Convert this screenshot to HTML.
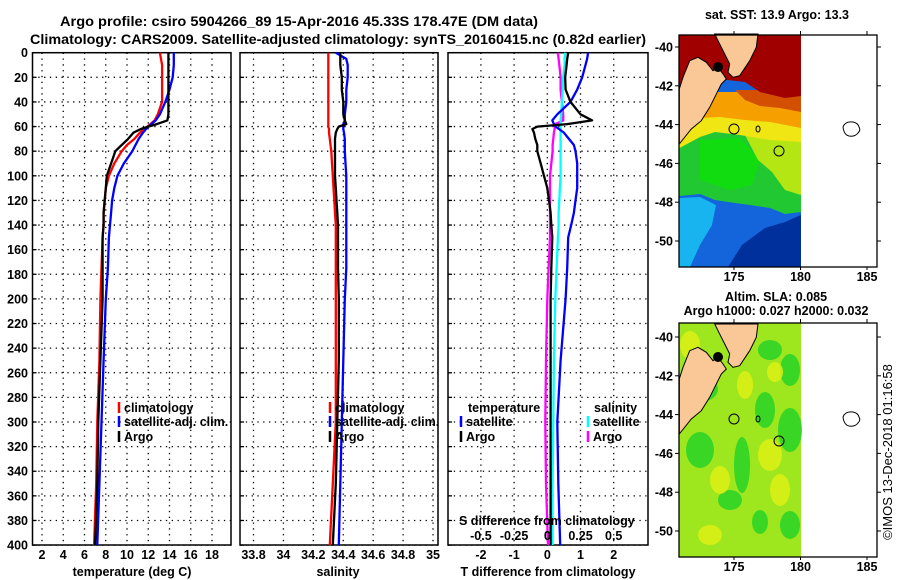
<!DOCTYPE html>
<html><head><meta charset="utf-8"><style>
html,body{margin:0;padding:0;background:#fff;}
svg{display:block;font-family:"Liberation Sans",Arial,sans-serif;}
.b{font-weight:bold;font-size:12.5px;fill:#000;}
</style></head><body>
<svg id="fig" width="900" height="580" viewBox="0 0 900 580" xmlns="http://www.w3.org/2000/svg">
<text class="b" x="60" y="26" textLength="478" lengthAdjust="spacingAndGlyphs" style="font-size:14px">Argo profile: csiro 5904266_89 15-Apr-2016 45.33S 178.47E (DM data)</text>
<text class="b" x="30" y="44" textLength="616" lengthAdjust="spacingAndGlyphs" style="font-size:14px">Climatology: CARS2009. Satellite-adjusted climatology: synTS_20160415.nc (0.82d earlier)</text>
<g id="p1"></g>
<g id="p2"></g>
<g id="p3"></g>
<g id="m1"></g>
<g id="m2"></g>
<text x="892" y="452" transform="rotate(-90 892 452)" text-anchor="middle" style="font-size:13px">©IMOS 13-Dec-2018 01:16:58</text>
</svg>
<script>
const depths=[0,5,10,20,30,40,50,55,58,60,62,65,70,75,80,90,100,110,120,130,140,150,175,200,250,300,350,400];
const tArgo=[13.9,13.9,13.9,13.9,13.9,13.9,13.9,13.8,12.8,12.0,11.3,10.6,10.1,9.5,8.9,8.5,8.1,8.0,7.9,7.8,7.8,7.7,7.7,7.7,7.5,7.3,7.2,7.0];
const tClim=[13.1,13.2,13.3,13.3,13.3,13.3,12.9,12.6,12.2,11.9,11.6,11.2,10.7,10.0,9.5,8.8,8.3,8.0,7.9,7.8,7.8,7.7,7.6,7.5,7.4,7.2,7.1,6.9];
const tSat=[14.4,14.4,14.4,14.3,14.0,13.6,13.1,12.7,12.3,12.0,11.8,11.5,11.1,10.8,10.5,9.7,9.1,8.8,8.6,8.5,8.4,8.3,8.2,8.0,7.8,7.6,7.4,7.2];
const sClim=[34.30,34.30,34.30,34.30,34.30,34.30,34.30,34.30,34.30,34.30,34.305,34.305,34.31,34.315,34.32,34.325,34.33,34.335,34.34,34.345,34.35,34.35,34.35,34.35,34.35,34.35,34.33,34.31];
const sArgo=[34.38,34.38,34.38,34.39,34.39,34.40,34.40,34.41,34.42,34.37,34.36,34.35,34.345,34.345,34.345,34.345,34.345,34.35,34.355,34.36,34.365,34.365,34.365,34.37,34.37,34.36,34.35,34.33];
const sSat=[34.35,34.42,34.43,34.43,34.42,34.42,34.41,34.41,34.40,34.40,34.40,34.405,34.41,34.41,34.41,34.415,34.42,34.42,34.42,34.42,34.42,34.42,34.42,34.41,34.40,34.39,34.38,34.37];
const dTargo=[0.63,0.6,0.58,0.54,0.55,0.7,1.0,1.35,0.6,-0.3,-0.45,-0.4,-0.36,-0.3,-0.3,-0.2,-0.1,0,0.05,0.1,0.12,0.15,0.12,0.1,0.1,0.1,0.1,0.1];
const dTsat=[1.23,1.2,1.15,1.05,0.9,0.7,0.3,0.15,0.2,0.25,0.35,0.5,0.65,0.8,0.85,0.9,0.9,0.9,0.85,0.8,0.72,0.63,0.6,0.55,0.4,0.3,0.33,0.39];
const dSsat=[0.135,0.13,0.13,0.12,0.115,0.11,0.105,0.1,0.1,0.1,0.1,0.1,0.1,0.1,0.1,0.1,0.1,0.095,0.09,0.085,0.085,0.08,0.07,0.06,0.05,0.045,0.04,0.04];
const dSargo=[0.08,0.085,0.09,0.1,0.1,0.11,0.12,0.12,0.06,0.06,0.055,0.05,0.045,0.04,0.04,0.03,0.02,0.02,0.02,0.02,0.02,0.02,0.01,0,-0.01,-0.015,-0.01,0.005];
const depthTicks=[0,20,40,60,80,100,120,140,160,180,200,220,240,260,280,300,320,340,360,380,400];
const tTicks=[2,4,6,8,10,12,14,16,18];
const sTicks=[33.8,34,34.2,34.4,34.6,34.8,35];
const sTickLabels=["33.8","34","34.2","34.4","34.6","34.8","35"];
const dTTicks=[-2,-1,0,1,2];
const dSTicks=[-0.5,-0.25,0,0.25,0.5];
const latTicks=[-40,-42,-44,-46,-48,-50];
const lonTicks=[175,180,185];

const NS="http://www.w3.org/2000/svg";
function mk(parent,tag,attrs,txt){const e=document.createElementNS(NS,tag);for(const k in attrs)e.setAttribute(k,attrs[k]);if(txt!==undefined)e.textContent=txt;parent.appendChild(e);return e;}
const Y0=52.7,YK=1.231;
const yD=d=>Y0+d*YK;
const xT=t=>42+(t-2)*10.625;
const xS=s=>253.5+(s-33.8)*149.6;
const xDT=t=>547.3+t*33.2;
const xDS=s=>547.3+s*132.8;

function panel(g,x0,x1,vticks,vx,labelsLeft){
  for(const d of depthTicks){
    const l=mk(g,'line',{x1:x0,x2:x1,y1:yD(d),y2:yD(d),stroke:'#000','stroke-width':1.3,'stroke-dasharray':'1.3,4.5'});
    
    
    const tk=mk(g,'line',{x1:x0,x2:x0+4,y1:yD(d),y2:yD(d),stroke:'#000','stroke-width':1.3});
    
    
    if(labelsLeft){
      const t=mk(g,'text',{x:28,y:yD(d)+4.5,'text-anchor':'end',class:'b'},String(d));
      
      
    }
  }
  for(const v of vticks){
    const l=mk(g,'line',{x1:vx(v),x2:vx(v),y1:Y0,y2:545,stroke:'#000','stroke-width':1.3,'stroke-dasharray':'1.3,4.5'});
    
    
  }
  const r=mk(g,'rect',{x:x0,y:Y0,width:x1-x0,height:545-Y0,fill:'none',stroke:'#000','stroke-width':1.5});
  
  
}
function series(g,vals,xf,color,name){
  const pts=vals.map((v,i)=>xf(v).toFixed(1)+','+yD(depths[i]).toFixed(1)).join(' ');
  const p=mk(g,'polyline',{points:pts,fill:'none',stroke:color,'stroke-width':2.3,'stroke-linejoin':'round'});
  
  
}
function legend(g,x,y,color,label,name,anchor){
  const m=mk(g,'line',{x1:x,x2:x,y1:y-10,y2:y+1,stroke:color,'stroke-width':2.5});
  
  
  const t=mk(g,'text',{x:x+5,y:y,class:'b'},label);
  
  
}
function xlabels(g,ticks,labels,xf,y,name){
  ticks.forEach((v,i)=>{const t=mk(g,'text',{x:xf(v),y:y,'text-anchor':'middle',class:'b'},labels[i]);
    
    });
}
// Panel 1
const p1=document.getElementById('p1');
panel(p1,32.5,231,tTicks,xT,true);
series(p1,tClim,xT,'#f00','climatology-temperature-line');
series(p1,tSat,xT,'#00f','satellite-temperature-line');
series(p1,tArgo,xT,'#000','argo-temperature-line');
legend(p1,119,412,'#f00','climatology','legend-climatology');
legend(p1,119,426,'#00f','satellite-adj. clim.','legend-satellite');
legend(p1,119,441,'#000','Argo','legend-argo');
xlabels(p1,tTicks,tTicks.map(String),xT,559,'temperature-tick-label');
mk(p1,'text',{x:132,y:576,'text-anchor':'middle',class:'b',},'temperature (deg C)');
// Panel 2
const p2=document.getElementById('p2');
panel(p2,240,438,sTicks,xS,false);
series(p2,sClim,xS,'#f00','climatology-salinity-line');
series(p2,sSat,xS,'#00f','satellite-salinity-line');
series(p2,sArgo,xS,'#000','argo-salinity-line');
legend(p2,330,412,'#f00','climatology','legend-climatology');
legend(p2,330,426,'#00f','satellite-adj. clim.','legend-satellite');
legend(p2,330,441,'#000','Argo','legend-argo');
xlabels(p2,sTicks,sTickLabels,xS,559,'salinity-tick-label');
mk(p2,'text',{x:338,y:576,'text-anchor':'middle',class:'b',},'salinity');
// Panel 3
const p3=document.getElementById('p3');
panel(p3,448,648,dTTicks,xDT,false);
series(p3,dSargo,xDS,'#f0f','argo-salinity-difference-line');
series(p3,dSsat,xDS,'#0ff','satellite-salinity-difference-line');
series(p3,dTsat,xDT,'#00f','satellite-temperature-difference-line');
series(p3,dTargo,xDT,'#000','argo-temperature-difference-line');
mk(p3,'text',{x:468,y:412,class:'b',},'temperature');
legend(p3,461,426,'#00f','satellite','legend-temperature-satellite');
legend(p3,461,441,'#000','Argo','legend-temperature-argo');
mk(p3,'text',{x:594,y:412,class:'b',},'salinity');
legend(p3,588,426,'#0ff','satellite','legend-salinity-satellite');
legend(p3,588,441,'#f0f','Argo','legend-salinity-argo');
mk(p3,'text',{x:459,y:525,class:'b',},'S difference from climatology');
xlabels(p3,dSTicks,["-0.5","-0.25","0","0.25","0.5"],xDS,540,'s-difference-tick-label');
xlabels(p3,dTTicks,["-2","-1","0","1","2"],xDT,559,'t-difference-tick-label');
mk(p3,'text',{x:548,y:576,'text-anchor':'middle',class:'b',},'T difference from climatology');

// Maps
const lonX=l=>734+(l-175)*13.3;
function drawMap(g,top,bottom,latY0,kind){
  const latY=la=>latY0+(-40-la)*19.4;
  const dy=latY0-47;
  const P=a=>a.map(p=>p[0]+','+(p[1]+dy)).join(' ');
  const X0=679.5,X1=801;
  if(kind==='sst'){
    const layers=[
      ['#1464dc',[[X0,35],[X1,35],[X1,267],[X0,267]]],
      ['#18b4f0',[[X0,198],[700,197],[716,205],[712,225],[700,245],[690,267],[X0,267]]],
      ['#00309c',[[728,267],[742,245],[765,228],[785,222],[X1,215],[X1,267]]],
      ['#22c832',[[X0,128],[X1,128],[X1,212],[785,214],[770,208],[750,205],[735,203],[715,200],[700,194],[X0,196]]],
      ['#10dc10',[[700,140],[740,138],[760,160],[752,185],[730,190],[700,180]]],
      ['#b4e614',[[745,135],[X1,135],[X1,195],[785,190],[772,172],[758,160]]],
      ['#f0e614',[[X0,100],[X1,100],[X1,142],[770,140],[740,135],[715,132],[700,137],[X0,148]]],
      ['#f5a000',[[X0,92],[X1,92],[X1,128],[770,122],[745,120],[720,117],[700,118],[X0,122]]],
      ['#d25000',[[735,90],[X1,90],[X1,112],[780,108],[760,106],[745,100]]],
      ['#a00000',[[X0,35],[X1,35],[X1,96],[785,98],[760,92],[745,82],[728,80],[700,76],[X0,84]]],
    ];
    layers.forEach(([c,pts])=>{const e=mk(g,'polygon',{points:P(pts),fill:c});
      
      });
  } else {
    const bg=mk(g,'rect',{x:X0,y:top,width:X1-X0,height:bottom-top,fill:'#9ee61e'});
    
    
    const blobs=[[704,99,14,12,'#28d228'],[770,60,12,10,'#28d228'],[790,80,10,16,'#28d228'],[765,120,10,18,'#28d228'],[790,140,12,22,'#28d228'],[700,160,14,18,'#28d228'],[742,175,8,28,'#28d228'],[730,210,12,10,'#28d228'],[790,235,10,14,'#28d228'],[760,232,8,12,'#28d228'],
      [690,55,10,14,'#dcf014'],[745,95,8,14,'#dcf014'],[775,82,8,10,'#dcf014'],[770,165,12,16,'#dcf014'],[720,190,10,14,'#dcf014'],[780,200,10,16,'#dcf014'],[710,245,12,10,'#dcf014']];
    blobs.forEach(b=>{const e=mk(g,'ellipse',{cx:b[0],cy:b[1]+dy,rx:b[2],ry:b[3],fill:b[4],opacity:0.85});
      
      });
  }
  const ox=678,oy=34+dy,Z=a=>a.map(p=>(ox+p[0]/3).toFixed(1)+','+(oy+p[1]/3).toFixed(1)).join(' ');
  const north=[[110,0],[240,0],[235,40],[215,80],[185,125],[165,130],[150,115],[155,90],[140,60],[120,20]];
  const south=[[4,165],[15,130],[35,80],[60,70],[85,85],[105,110],[120,100],[135,120],[145,135],[130,150],[105,200],[95,220],[70,260],[40,285],[4,330]];
  if(kind==='sst'){
    [north,south].forEach(s=>{const e=mk(g,'polygon',{points:Z(s),fill:'#f9c896',stroke:'#000','stroke-width':1});
      
      });
  } else {
    [north,south].forEach(s=>{const e=mk(g,'polygon',{points:Z(s),fill:'#f9c896',stroke:'#000','stroke-width':1});
      
      });
  }
  const c1=mk(g,'ellipse',{cx:718,cy:67+dy,rx:5,ry:5,fill:'#000'});
  
  
  [[734,129,5,5],[779,151,5,5],[758,129,2,3]].forEach(c=>{const e=mk(g,'ellipse',{cx:c[0],cy:c[1]+dy,rx:c[2],ry:c[3],fill:'none',stroke:'#000','stroke-width':1});
    
    });
  const isl=mk(g,'path',{d:`M843,${127+dy} q2,-6 10,-5 q5,1 6,5 q2,3 -1,6 q-3,4 -9,3 q-5,-1 -6,-9z`,fill:'none',stroke:'#000','stroke-width':1});
  
  
  const fr=mk(g,'rect',{x:679,y:top,width:198,height:bottom-top,fill:'none',stroke:'#000','stroke-width':1.3});
  
  
  latTicks.forEach(la=>{
    const t=mk(g,'text',{x:673,y:latY(la)+4.5,'text-anchor':'end',class:'b'},String(la));
    
    
    mk(g,'line',{x1:877,x2:881,y1:latY(la),y2:latY(la),stroke:'#000','stroke-width':1});
    mk(g,'line',{x1:675,x2:679,y1:latY(la),y2:latY(la),stroke:'#000','stroke-width':1});
  });
  lonTicks.forEach(lo=>{
    const t=mk(g,'text',{x:lonX(lo),y:bottom+14,'text-anchor':'middle',class:'b'},String(lo));
    
    
    mk(g,'line',{x1:lonX(lo),x2:lonX(lo),y1:top-4,y2:top,stroke:'#000','stroke-width':1});
    mk(g,'line',{x1:lonX(lo),x2:lonX(lo),y1:bottom,y2:bottom+3,stroke:'#000','stroke-width':1});
  });
}
const m1=document.getElementById('m1');
drawMap(m1,35,267,47,'sst');
mk(m1,'text',{x:777,y:19,'text-anchor':'middle',class:'b',},'sat. SST: 13.9 Argo: 13.3');
const m2=document.getElementById('m2');
drawMap(m2,323,557,337,'sla');
mk(m2,'text',{x:776,y:301,'text-anchor':'middle',class:'b',},'Altim. SLA: 0.085');
mk(m2,'text',{x:776,y:315,'text-anchor':'middle',class:'b',},'Argo h1000: 0.027 h2000: 0.032');
</script>
</body></html>
